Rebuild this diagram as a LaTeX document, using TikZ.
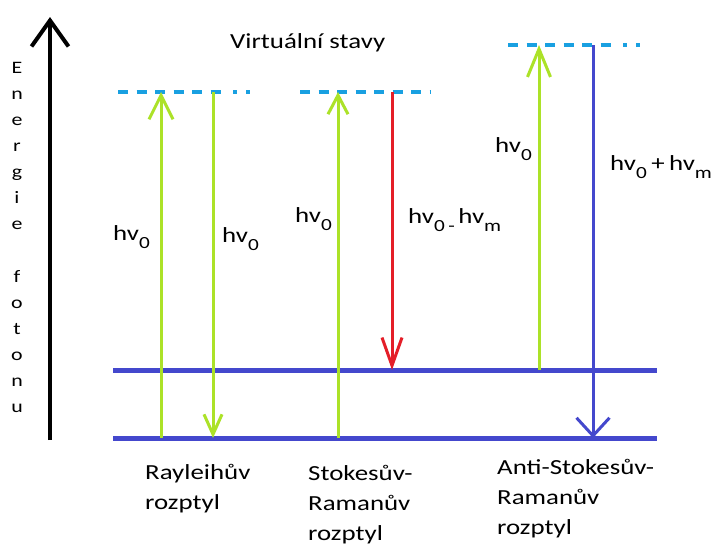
\documentclass[tikz,border=0pt]{standalone}
\usepackage{fontspec}
\setmainfont{Carlito}
\usetikzlibrary{arrows.meta}
\definecolor{lev}{RGB}{68,72,205}
\definecolor{grn}{RGB}{172,226,40}
\definecolor{cyn}{RGB}{25,160,225}
\definecolor{rd}{RGB}{228,30,40}
\newcommand\sx[1]{\scalebox{1.25}[1]{#1}}
\newcommand\lo[1]{\raisebox{-8pt}{\fontsize{17}{17}\selectfont #1}}
\tikzset{
  lbl/.style={inner sep=0pt, font=\fontsize{21.5}{30}\selectfont},
  level/.style={draw=lev, line width=5pt},
  virt/.style={draw=cyn, line width=4pt, dash pattern=on 10pt off 8.5pt},
  virtdot/.style={draw=cyn, line width=4pt, dash pattern=on 4pt off 9pt},
  axisarrow/.style={draw=black, line width=4pt, -{Straight Barb[length=26pt,width=37pt,line width=4pt]}},
  gup/.style={draw=grn, line width=3pt, -{Straight Barb[length=24pt,width=24pt]}},
}
\begin{document}
\begin{tikzpicture}[x=1pt,y=-1pt]
\useasboundingbox (0,0) rectangle (722,554);
\fill[white] (0,0) rectangle (722,554);

% axis
\coordinate (axb) at (50,440);
\coordinate (axt) at (50,17);
\draw[axisarrow] (axb) -- (axt);
\node[lbl, anchor=north, font=\fontsize{17.5}{26.15}\selectfont] (axl) at (17,54.5)
  {\sx{\begin{tabular}{@{}c@{}}E\\n\\e\\r\\g\\i\\e\\ \\f\\o\\t\\o\\n\\u\end{tabular}}};

% levels
\coordinate (g0l) at (113,438); \coordinate (g0r) at (657,438);
\coordinate (g1l) at (113,370); \coordinate (g1r) at (657,370);
\draw[level] (g0l) -- (g0r);
\draw[level] (g1l) -- (g1r);

% virtual levels
\draw[virt] (118,91.5) -- (226,91.5);
\draw[virtdot] (233,91.5) -- (250,91.5);
\draw[virt] (300,92) -- (430,92);
\draw[virt] (508,45) -- (612,45);
\draw[virtdot] (623,45) -- (641,45);

% named level points
\coordinate (r0) at (161,438); \coordinate (r1) at (161,92);
\coordinate (r2) at (213,92);  \coordinate (r3) at (213,438);
\coordinate (s0) at (338,438); \coordinate (s1) at (338,92);
\coordinate (s2) at (392,92);  \coordinate (s3) at (392,370);
\coordinate (a0) at (539,370); \coordinate (a1) at (539,45);
\coordinate (a2) at (593,45);  \coordinate (a3) at (593,438);

% transitions
\draw[gup] (r0) -- (r1);
\draw[draw=grn, line width=3pt, -{Straight Barb[length=20pt,width=18pt]}] (r2) -- (r3);
\draw[draw=grn, line width=3pt, -{Straight Barb[length=19pt,width=20pt]}] (s0) -- (s1);
\draw[draw=rd, line width=3pt, -{Straight Barb[length=28pt,width=20pt]}] (s2) -- (s3);
\draw[draw=grn, line width=3pt, -{Straight Barb[length=28pt,width=23pt]}] (a0) -- (a1);
\draw[draw=lev, line width=3pt, -{Straight Barb[length=18pt,width=33pt]}] (a2) -- (a3);

% labels
\node[lbl, anchor=base west] (vs) at (230,48) {\sx{Virtuální stavy}};
\node[lbl, anchor=base west] (l1) at (113,240) {\sx{hv\lo{0}}};
\node[lbl, anchor=base west] (l2) at (222,242) {\sx{hv\lo{0}}};
\node[lbl, anchor=base west] (l3) at (295,222) {\sx{hv\lo{0}}};
\node[lbl, anchor=base west] (l4) at (408,223) {\sx{hv\lo{0\,-\,}hv\lo{m}}};
\node[lbl, anchor=base west] (l5) at (495,152) {\sx{hv\lo{0}}};
\node[lbl, anchor=base west] (l6) at (610,170) {\sx{hv\lo{0}\,+\,hv\lo{m}}};

\node[lbl, anchor=north west] (c1) at (145,458)
  {\sx{\begin{tabular}{@{}l@{}}Rayleihův\\rozptyl\end{tabular}}};
\node[lbl, anchor=north west] (c2) at (308,459)
  {\sx{\begin{tabular}{@{}l@{}}Stokesův-\\Ramanův\\rozptyl\end{tabular}}};
\node[lbl, anchor=north west] (c3) at (497,453)
  {\sx{\begin{tabular}{@{}l@{}}Anti-Stokesův-\\Ramanův\\rozptyl\end{tabular}}};
\end{tikzpicture}
\end{document}
